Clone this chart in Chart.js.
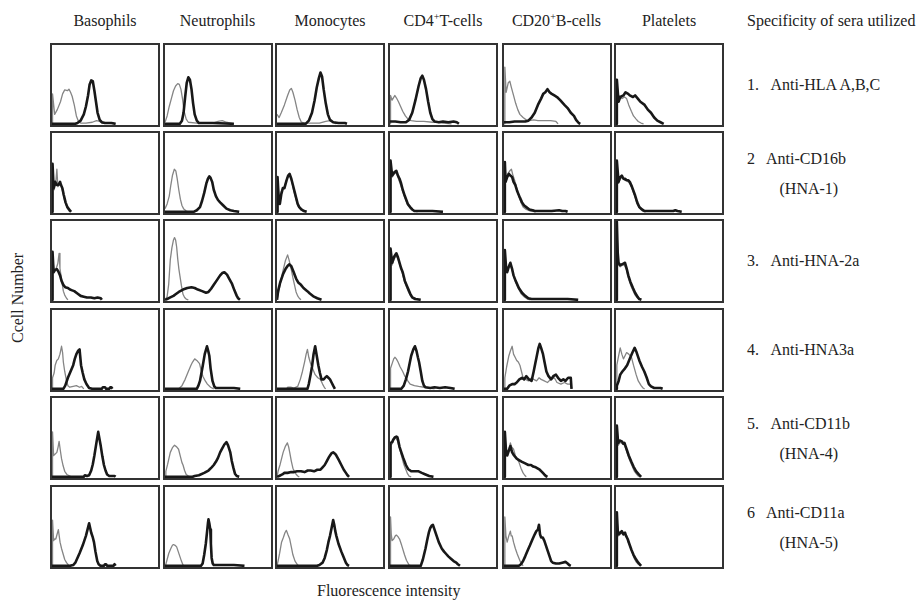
<!DOCTYPE html>
<html lang="en">
<head>
<meta charset="UTF-8">
<title>Flow cytometry histograms</title>
<script src="https://cdn.jsdelivr.net/npm/chart.js"></script>
<style>
    body { margin: 0; background: #fff; font-family: 'Liberation Serif', 'Times New Roman', serif; color: #222; }
    #fig { position: relative; width: 920px; height: 601px; overflow: hidden; }
    .lbl { position: absolute; font-size: 16px; line-height: 18px; white-space: nowrap; }
    .head { text-align: center; width: 130px; }
    .head sup { font-size: 10px; vertical-align: 6px; line-height: 0; }
    .panel { position: absolute; width: 106px; height: 80px; border: 2px solid #333; background: #fff; }
    .panel canvas { display: block; }
</style>
</head>
<body>
<div id="fig"></div>

<script>
// cell populations (columns) and sera (rows)
const cells = ['Basophils', 'Neutrophils', 'Monocytes', 'CD4<sup>+</sup>T-cells', 'CD20<sup>+</sup>B-cells', 'Platelets'];
const seraNum = ['1.', '2', '3.', '4.', '5.', '6'];
const seraName = ['Anti-HLA A,B,C', 'Anti-CD16b', 'Anti-HNA-2a', 'Anti-HNA3a', 'Anti-CD11b', 'Anti-CD11a'];
const seraSub = ['', '(HNA-1)', '', '', '(HNA-4)', '(HNA-5)'];

// histograms: flat [x, y, x, y, ...], x = fluorescence (0-100), y = cell number (0-100)
// one list per column, control serum (grey) and test serum (black)
const hlaControl = [
    [0,0, 0.5,38, 2.5,12, 5,18, 8,28, 10,38, 12,43, 14.6,42, 16,44, 17.5,40, 19,35, 21,24, 23,10, 25,3, 27,1, 32,1, 38,2, 42,4, 45,3, 47,1, 55,1, 60,0],
    [0,2, 2,10, 4,22, 6,32, 8,42, 10,48, 12,51, 13.5,50, 15,44, 16.5,32, 18,16, 20,6, 22,2, 30,1, 45,1, 50,3, 54,4, 58,2, 62,1, 65,0],
    [0,12, 2,8, 4,14, 7,24, 10,36, 12,43, 13.5,45, 15,40, 17,30, 19,18, 21,8, 23,2, 26,1, 40,1, 46,3, 50,4, 53,2, 56,0],
    [0,0, 0.5,36, 2,30, 4.5,36, 6,33, 8,28, 10,22, 12,16, 14.5,10, 17,6, 20,4, 25,3, 32,3, 40,2, 45,2, 50,1, 58,0],
    [0,0, 0.8,72, 2,40, 4,52, 5.5,54, 7,46, 9,36, 11,26, 13,18, 15,12, 18,8, 21,5, 24,4, 28,5, 32,4, 38,4, 44,4, 49,3, 51,0],
    [0,0, 0.8,44, 2.5,36, 5.5,32, 8,34, 10,32, 12,24, 14.5,16, 16.5,10, 19,6, 21,3, 23.6,1, 26,0]
];
const hlaTest = [
    [0,0, 22,0, 24,1, 27,4, 30,12, 32,22, 34,36, 35.5,50, 37,55, 38.5,54, 40,42, 41.5,28, 43,14, 45,5, 47,2, 50,1, 56,1, 60,0],
    [0,0, 14,0, 16,4, 17.5,14, 19,34, 20.5,52, 22,59, 23.5,56, 25,44, 26.5,26, 28,12, 30,4, 32,1, 45,1, 65,0],
    [0,0, 27,0, 30,4, 33,14, 35.5,30, 37.5,46, 39.5,58, 41,65, 42.5,60, 44,44, 46,26, 48,12, 50,5, 53,2, 58,1, 64,1, 66,0],
    [0,3, 5,3, 10,2, 15,2, 18,5, 21,14, 24,30, 27,48, 29,58, 30.5,61, 32,56, 34,44, 36,28, 38,14, 40,6, 42,3, 46,2, 50,3, 55,2, 60,3, 63,2, 65,0],
    [0,2, 5,2, 10,3, 15,3, 20,3, 23,4, 26,8, 29,14, 32,24, 35,32, 37,38, 39,40, 41,44, 43,40, 45,38, 47.5,36, 50,34, 53,30, 57,24, 60,20, 63,14, 66,10, 68,5, 70.5,1, 72,0],
    [0,0, 0.8,56, 2.4,28, 4,34, 7,36, 9,40, 11.5,38, 13,36, 16,34, 18,36, 20.6,32, 23,28, 27,24, 30,18, 33,14, 36,8, 39,4, 42,2, 45,0]
];
const cd16bControl = [
    [0,0, 0.5,50, 2,28, 3.5,36, 4.6,54, 5.5,32, 7,36, 8.5,34, 10,26, 12,14, 14,6, 16,1, 17,0],
    [0,4, 2,10, 4,20, 5.5,34, 7,46, 8.8,54, 10.2,52, 11.5,42, 13,28, 14.5,16, 16,8, 17.5,4, 20,1, 22,0],
    [0,0, 0.5,40, 2,14, 4,26, 7,32, 10,44, 12,46, 14,38, 16,26, 18,16, 20,7, 23,2, 26,0],
    [0,0, 0.5,60, 2,44, 4,48, 6,50, 8,42, 10,34, 12,26, 14,18, 17,8, 20,3, 23,1, 26,0],
    [0,0, 0.8,58, 2,42, 3.5,48, 5.5,52, 7,54, 8.5,46, 10,40, 12,30, 14,20, 16,12, 18,6, 21,3, 25,1, 30,0],
    [0,0, 0.8,60, 2.4,36, 4,42, 6,44, 8,40, 10,40, 13,36, 15,30, 17.7,20, 20,10, 22,5, 25,1, 28,0]
];
const cd16bTest = [
    [0,0, 0.5,61, 1.5,30, 3,38, 4.5,34, 6,34, 7.6,38, 8.5,34, 9.8,30, 11,22, 12.8,12, 14.5,6, 16.8,2, 18,0],
    [0,0, 27,0, 30,2, 33,6, 35,14, 37,24, 39,36, 40.5,42, 41.8,45, 43,43, 44.5,38, 46,28, 48,20, 50,15, 52,12, 55,8, 58,4, 61.6,2, 65,1, 70,0],
    [0,0, 0.5,44, 1.5,20, 2.7,10, 4,22, 5.5,30, 7,30, 9,40, 10.5,46, 11.9,48, 13.5,42, 15,34, 16.5,26, 18,18, 19.5,10, 21,6, 23,3, 25.6,1, 28,0],
    [0,0, 0.5,65, 2,46, 4,50, 6,52, 7.5,46, 9,42, 10.5,36, 12,28, 14,20, 16.8,10, 19,6, 21,3, 23,1, 30,1, 40,1, 50,0],
    [0,0, 0.8,63, 1.5,38, 3,44, 4.6,48, 6,46, 7.7,44, 9,38, 10.7,34, 12.5,26, 15,18, 17,12, 19,8, 21,6, 24,3, 27,2, 29,1, 35,1, 45,1, 52,2, 55,1, 58,1, 60,0],
    [0,0, 0.8,65, 2.4,38, 4,44, 5.5,46, 7,42, 8.5,42, 10,40, 11.5,40, 13,38, 15,32, 17.7,22, 20,12, 22,6, 24.5,3, 27,1, 40,1, 54,1, 56,2, 58,1, 62,0]
];
const hna2aControl = [
    [0,0, 0.5,55, 2,36, 4,40, 5.5,46, 6.7,59, 7.5,40, 9,26, 10.7,11, 12,6, 13.7,2, 15,0],
    [0,0, 2,4, 3.5,20, 5,51, 6.5,66, 8,76, 9,79, 10,76, 11,67, 12,52, 13,40, 14,31, 15.5,18, 17,7, 18.5,3, 20,1, 22,0],
    [0,0, 1,6, 3,20, 5.5,36, 8,50, 10,57, 11.5,50, 13.4,39, 15,28, 16.5,19, 18,10, 19.5,5, 21,2, 22.6,0],
    [0,0, 0.5,60, 2,44, 4,52, 6,56, 8,50, 10,42, 12,32, 14,22, 16.8,12, 19,6, 21,2, 24,0],
    [0,0, 0.8,58, 2,38, 4,40, 6,44, 8,36, 10,26, 13,16, 16,8, 19,4, 22,1, 25,0],
    [0,0, 0.8,90, 2.4,44, 4,42, 6,44, 8,44, 10,38, 11.6,28, 14,18, 16,12, 18,6, 20.7,2, 22,0]
];
const hna2aTest = [
    [0,0, 0.5,61, 1.5,35, 3,38, 4.6,39, 6,36, 7.6,31, 9,24, 10.7,19, 12.5,16, 15,15, 17,13, 19,12, 21,11, 24,8, 27,5, 30,4, 33,3, 36.6,3, 40,2, 43,3, 46,2, 47,0],
    [0,0, 2,1, 5,3, 8,5, 10,7, 13,10, 17,13, 21,15, 25,16, 28,15, 31,13, 35,11, 38.7,9, 41,10, 43.5,14, 46,19, 49,25, 52,31, 54,34, 56,35, 58.5,32, 60.5,27, 63,21, 65.5,12, 67.7,5, 69,2, 70.7,0],
    [0,0, 1,11, 3,22, 5.8,33, 8,39, 10,43, 11.5,45, 13.4,43, 15.5,36, 18,27, 20,22, 22.6,19, 25,15, 28.6,11, 31,8, 34.8,4, 38,2, 42,0],
    [0,0, 0.5,65, 2,47, 4,55, 6,59, 7.5,54, 9,47, 10.5,40, 12,35, 14,24, 16.8,15, 19,8, 21,3, 24,1, 29,0],
    [0,0, 0.8,63, 2,40, 3,35, 4.5,42, 6,47, 7.5,40, 9,31, 11,24, 14,15, 17,9, 20,5, 23,2, 26,1, 40,1, 60,1, 70,0],
    [0,0, 0.8,99, 1.6,60, 2.4,47, 4,44, 5.5,45, 7,46, 8.5,47, 10,40, 11.6,31, 13.5,23, 16,15, 18,9, 20.7,3, 22,1, 24,0]
];
const hna3aControl = [
    [0,0, 0.5,14, 2,20, 3,30, 4.5,36, 6,38, 7.5,44, 9,54, 10,46, 10.7,34, 12,22, 13.7,10, 15,4, 16.8,2, 20,3, 23,4, 26,2, 28,3, 30,0],
    [0,0, 13,0, 16,4, 19,12, 22,22, 24.5,30, 26,34, 28,38, 30,36, 32.6,32, 34,24, 35.7,16, 38,10, 40,6, 43,2, 46,0],
    [0,0, 9,0, 10,2, 13,2, 16,1, 19.5,3, 22,12, 24,22, 26,34, 27.5,44, 28.7,50, 30,40, 31.7,32, 33.5,26, 36,18, 38.5,14, 41,12, 43,6, 45,1, 46,0],
    [0,0, 0.5,26, 2,32, 3.5,38, 4.6,40, 6,38, 7.6,34, 9.5,28, 12,22, 14,16, 16.8,10, 19,6, 23,4, 27,3, 32,2, 38,1, 42,0],
    [0,0, 0.8,14, 2.5,28, 4.6,42, 6,48, 7.7,54, 9,44, 10.5,40, 12,36, 13.5,34, 15,30, 16.5,22, 18,14, 20.5,12, 23,10, 26,14, 28,12, 30.7,10, 33,14, 35,12, 38,10, 41,8, 44,12, 47.5,14, 50,8, 53.7,6, 57,8, 60,6, 63,6, 64,0],
    [0,0, 0.8,30, 2.5,42, 4,52, 5.5,44, 7,38, 8.5,42, 10,46, 12,44, 14.6,40, 16.5,30, 19,18, 21,10, 23.7,4, 25.5,1, 27,0]
];
const hna3aTest = [
    [0,0, 10.7,0, 12.5,4, 15,14, 17.5,22, 20,30, 21.5,38, 23,44, 24.5,48, 26,50, 27.4,30, 29,20, 30.5,12, 32.5,6, 35,1, 38,0, 47,0, 48,2, 50,2, 51,0, 54,0, 55,2, 56,2, 57,0],
    [0,0, 30,0, 31.5,4, 33,10, 35.7,30, 37.5,44, 39.6,54, 40.8,48, 41.8,42, 43,26, 44.8,10, 46.5,3, 48,1, 55,1, 65,1, 71,0],
    [0,0, 28.7,0, 30,6, 31.7,18, 33,28, 34.5,44, 36,54, 37.5,42, 39,30, 40.5,20, 42,12, 44,12, 46,15, 47,16, 48.5,14, 50,12, 51.5,8, 53,4, 54.6,0],
    [0,0, 10.7,0, 13,4, 15,12, 17,22, 18.5,32, 20,42, 22,50, 23.5,54, 25,48, 26.3,40, 27.4,34, 29,22, 30.5,10, 32,4, 33.5,2, 38,1, 42,2, 47,1, 52,2, 57,1, 61,0],
    [0,0, 3,0, 5,4, 7.7,6, 10,6, 12,8, 14.5,12, 17,14, 19,12, 21,16, 23.5,12, 26,10, 28,22, 29.5,32, 30.7,40, 32.5,52, 33.7,57, 35,52, 36.8,44, 38.5,32, 40,22, 42,16, 44.5,12, 46.5,16, 49,18, 51,14, 53.7,10, 56,12, 58,10, 60.5,14, 63,14, 63.7,0],
    [0,0, 0.8,4, 2.5,10, 4,18, 6,22, 8.5,26, 10.5,30, 13,38, 15.5,46, 17.6,52, 19.5,46, 22,36, 24.5,28, 26.7,22, 29,14, 31,6, 33,3, 36,1, 42,1, 44,0]
];
const cd11bControl = [
    [0,0, 0.5,57, 1.5,27, 3,29, 4.6,31, 5.8,38, 6.7,45, 7.8,34, 9,23, 10.5,14, 12,7, 14,3, 16.8,1, 18,0],
    [0,0, 0.8,7, 2.5,16, 5,31, 7,37, 9,40, 11,38, 12.8,35, 14.5,26, 16,18, 17,15, 18.5,8, 20,3, 22,1, 23.5,0],
    [0,0, 1,7, 3,16, 5.8,31, 8,39, 9.8,43, 11,38, 12,31, 13.5,20, 15,11, 17,5, 19.5,1, 21,0],
    [0,0, 0.5,40, 2,42, 4,48, 5.5,49, 7,46, 9,36, 11,26, 13,16, 15,9, 16.5,4, 18,1, 20,0],
    [0,0, 0.8,50, 2,32, 3.5,30, 4.6,35, 6,43, 7.2,38, 9,35, 11,26, 14,19, 16,11, 18,5, 19.5,2, 21,0],
    [0,0, 0.8,60, 2,40, 4,44, 6,42, 8,40, 10,33, 12,24, 14.5,16, 17,8, 19,4, 21,1, 22.5,0]
];
const cd11bTest = [
    [0,0, 30,0, 31,2, 33,1, 35,2, 37,8, 38.5,16, 40,27, 42,44, 43.6,57, 44.8,48, 46,39, 47.5,26, 49,15, 50.5,8, 52,3, 54,1, 59,1, 60,0],
    [0,0, 26,0, 28,1, 32,2, 37,5, 41,8, 44,12, 46,15, 48,19, 50,24, 52,31, 54,36, 56,41, 58,44, 59.5,40, 61.6,31, 63,20, 64.6,11, 66,4, 67.7,1, 70,0],
    [0,0, 2,1, 5,3, 7,5, 10,5, 13.4,6, 16,6, 19,7, 22.6,7, 26,6, 29,8, 31.7,8, 35,7, 38,9, 41,9, 43,12, 45,15, 47,20, 49,25, 50,27, 51.5,30, 53,31, 55,29, 56,27, 58,22, 60.7,15, 63,9, 65,5, 66.5,2, 68,0],
    [0,0, 0.5,43, 2,44, 3,47, 4.5,50, 6,51, 7,50, 7.6,47, 9,38, 10.7,31, 12.5,24, 15,15, 17,10, 20,7, 23,7, 27,7, 30,5, 33.5,3, 37,1, 41,0],
    [0,0, 0.8,57, 1.8,35, 3,27, 4.5,33, 6,39, 7.7,31, 9.5,27, 12,23, 14.5,21, 17,19, 20,17, 23,15, 25.5,15, 27.6,13, 30,12, 33.7,9, 36,6, 38,3, 39.5,1, 41,0],
    [0,0, 0.8,65, 2,43, 3.5,46, 5.5,45, 7,42, 8,43, 9,39, 10,35, 12,27, 14.5,19, 16.5,13, 19,7, 21.5,3, 23.7,0]
];
const cd11aControl = [
    [0,0, 0.5,58, 1.5,32, 2.5,34, 3.6,34, 4.8,40, 6,46, 6.8,38, 7.6,30, 9,22, 10.7,14, 12,8, 13.7,4, 15.5,1, 16.8,0],
    [0,0, 0.8,2, 2,8, 3.6,16, 5.5,22, 7,26, 8,27, 9.5,26, 11,24, 12.5,18, 14,12, 15.5,6, 17,1, 18,0],
    [0,0, 1,6, 2.5,16, 4.3,30, 6,36, 7.5,42, 8.8,45, 10.2,40, 12,34, 13.5,24, 15,14, 17,6, 19.5,1, 21,0],
    [0,0, 0.5,62, 1.2,40, 2,32, 3.5,34, 5,38, 6,39, 7.5,37, 9,34, 11,26, 13.7,14, 15.5,7, 18,1, 20,0],
    [0,0, 0.8,62, 1.8,38, 3,30, 4.5,38, 6,44, 6.8,38, 7.7,38, 9,30, 10.7,22, 12.5,15, 14,10, 15.5,5, 17,2, 18,0],
    [0,0, 0.8,60, 2.4,38, 4,40, 6,42, 8,40, 10,38, 11.5,30, 13,26, 15,18, 17,10, 19,5, 21,2, 23,0]
];
const cd11aTest = [
    [0,0, 17,0, 20,1, 22,4, 24,10, 26,16, 29,26, 30.5,32, 32,38, 33.5,46, 35,54, 36,48, 37,42, 38.5,36, 39.6,30, 41,18, 42.7,6, 44,2, 45.7,0, 49,0, 50,2, 51,2, 52,0, 58,0, 59,2, 60,0],
    [0,0, 34,0, 35.5,3, 37,14, 38.5,28, 39.6,42, 40.5,54, 41,59, 41.8,54, 42.7,46, 43.3,28, 44,10, 45,3, 46,1, 55,1, 65,1, 75,0],
    [0,0, 37.8,0, 40,1, 43,4, 45,10, 47,20, 48.5,30, 50,38, 51.5,48, 53,58, 54,52, 55,44, 56,38, 58,28, 60.7,18, 62.5,12, 65,4, 66.5,1, 68,0],
    [0,0, 29,0, 31,8, 33.5,22, 35,32, 36.6,42, 38,48, 39.3,51, 40.5,52, 42,46, 44,38, 46,30, 48.8,22, 51,18, 53,15, 55,12, 57.5,9, 60,6, 62.5,4, 64,2, 66,0],
    [0,0, 14,0, 16,2, 18,6, 20,12, 22.5,20, 24.5,26, 27,34, 29,40, 30.5,44, 32,46, 33,52, 34,40, 35,36, 36.5,36, 38,32, 39.5,26, 41,20, 43,12, 44.5,6, 46,4, 49,3, 52,3, 55,4, 58,5, 60,3, 61.5,1, 63,0],
    [0,0, 0.8,68, 1.6,45, 2.4,40, 4,42, 5.5,44, 7,40, 8.5,42, 9.5,38, 11,34, 12.5,28, 14.6,20, 16.5,14, 19,8, 21,4, 23.7,0]
];

const controlRows = [hlaControl, cd16bControl, hna2aControl, hna3aControl, cd11bControl, cd11aControl];
const testRows = [hlaTest, cd16bTest, hna2aTest, hna3aTest, cd11bTest, cd11aTest];

// --- layout ---
const fig = document.getElementById('fig');
const colLeft = [50, 162.5, 275, 388, 501.5, 614];
const rowTop = [43, 131, 219, 308, 396, 484.5];

function addLabel(html, left, top, cls) {
    const d = document.createElement('div');
    d.className = 'lbl ' + (cls || '');
    d.style.left = left + 'px';
    d.style.top = top + 'px';
    d.innerHTML = html;
    fig.appendChild(d);
    return d;
}

function toPoints(flat) {
    const pts = [];
    for (let i = 0; i < flat.length; i += 2) pts.push({ x: flat[i], y: flat[i + 1] });
    return pts;
}

cells.forEach((c, j) => addLabel(c, colLeft[j] - 10, 12, 'head'));
addLabel('Specificity of sera utilized', 747, 12);

seraName.forEach((s, i) => {
    const mid = rowTop[i] + 42;
    const y = seraSub[i] ? mid - 14 : mid;
    addLabel(seraNum[i], 747, y - 9);
    addLabel(s, seraNum[i].length > 1 ? 770.5 : 766, y - 9);
    if (seraSub[i]) addLabel(seraSub[i], 779.5, y + 21);
});

const yl = addLabel('Ccell Number', 0, 0);
yl.style.left = '-27px';
yl.style.top = '289px';
yl.style.width = '90px';
yl.style.textAlign = 'center';
yl.style.transform = 'rotate(-90deg)';

addLabel('Fluorescence intensity', 317, 582);

// --- 36 histogram panels ---
for (let i = 0; i < 6; i++) {
    for (let j = 0; j < 6; j++) {
        const box = document.createElement('div');
        box.className = 'panel';
        box.style.left = colLeft[j] + 'px';
        box.style.top = rowTop[i] + 'px';
        const cv = document.createElement('canvas');
        cv.width = 106;
        cv.height = 80;
        box.appendChild(cv);
        fig.appendChild(box);

        new Chart(cv.getContext('2d'), {
            type: 'line',
            data: {
                datasets: [
                    { data: toPoints(testRows[i][j]), borderColor: '#181818', borderWidth: 2.6 },
                    { data: toPoints(controlRows[i][j]), borderColor: '#858585', borderWidth: 1.3 }
                ]
            },
            options: {
                responsive: false,
                animation: false,
                events: [],
                layout: { padding: 0 },
                elements: { point: { radius: 0 }, line: { tension: 0, borderJoinStyle: 'round' } },
                plugins: { legend: { display: false }, tooltip: { enabled: false } },
                scales: {
                    x: { type: 'linear', min: 0, max: 100, display: false },
                    y: { min: -1.5, max: 100, display: false }
                }
            }
        });
    }
}
</script>
</body>
</html>
